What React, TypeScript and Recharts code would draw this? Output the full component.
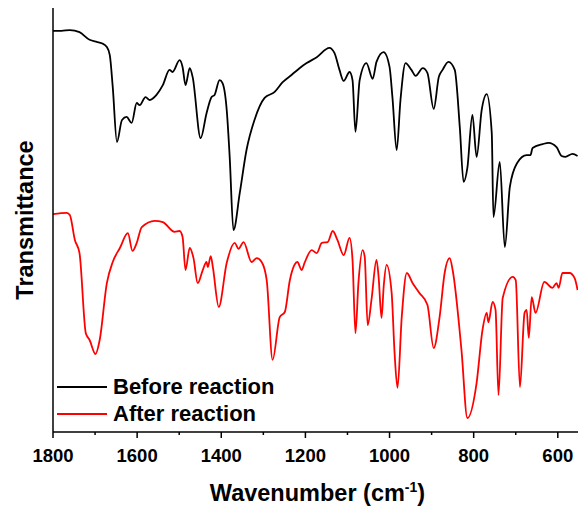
import React from "react";
import { LineChart, Line, XAxis, YAxis, Label } from "recharts";

const beforeWavenumber = [
  1800, 1780, 1760, 1737, 1713, 1696, 1684, 1672, 1665, 1658, 1648, 1636, 1625, 1613, 1601, 1594,
  1580, 1570, 1554, 1539, 1523, 1516, 1499, 1492, 1485, 1475, 1468, 1449, 1435, 1423, 1416, 1404,
  1397, 1387, 1380, 1371, 1356, 1340, 1321, 1297, 1273, 1254, 1233, 1214, 1197, 1173, 1143, 1131,
  1119, 1109, 1095, 1088, 1081, 1071, 1055, 1040, 1031, 1014, 1000, 993, 983, 974, 962, 948, 938,
  921, 910, 895, 883, 874, 860, 845, 833, 824, 815, 803, 793, 781, 769, 757, 753, 738, 726, 714,
  697, 674, 665, 660, 636, 622, 603, 591, 582, 565, 553,
];
const beforeTransmittance = [
  94.6, 94.6, 94.8, 94.3, 92.5, 92.0, 91.7, 90.8, 88.9, 81.4, 68.4, 73.6, 74.3, 72.9, 77.6, 77.1,
  79.0, 78.3, 79.5, 81.8, 85.4, 84.9, 87.7, 86.1, 81.8, 85.8, 83.7, 69.3, 75.2, 79.0, 79.5, 83.0,
  82.3, 75.9, 64.9, 47.6, 56.4, 66.5, 73.6, 78.8, 80.2, 82.5, 84.2, 85.8, 87.0, 88.4, 90.6, 89.4,
  85.4, 82.8, 84.9, 83.0, 70.8, 83.0, 87.0, 83.3, 87.3, 89.6, 86.1, 78.8, 66.5, 78.3, 87.0, 85.4, 84.0,
  85.8, 84.7, 76.2, 83.7, 85.4, 87.3, 85.4, 71.9, 59.0, 62.3, 74.8, 64.9, 75.9, 79.7, 70.5, 50.7, 63.7, 43.6, 57.8,
  63.4, 65.3, 65.3, 67.0, 67.9, 68.2, 67.2, 65.1, 64.9, 65.6, 65.1,
];

const afterWavenumber = [
  1800, 1767, 1760, 1748, 1737, 1722, 1713, 1699, 1689, 1672, 1658, 1641, 1622, 1611, 1601, 1589,
  1558, 1539, 1511, 1499, 1492, 1485, 1475, 1466, 1456, 1444, 1435, 1432, 1425, 1420, 1406, 1387,
  1368, 1359, 1347, 1328, 1316, 1304, 1292, 1278, 1261, 1249, 1237, 1226, 1219, 1209, 1202, 1185,
  1173, 1161, 1147, 1135, 1124, 1109, 1095, 1088, 1081, 1074, 1064, 1059, 1052, 1043, 1031, 1026,
  1019, 1014, 1007, 995, 988, 981, 971, 959, 945, 929, 910, 895, 881, 869, 857, 850, 829, 815, 793,
  779, 769, 765, 755, 748, 741, 731, 707, 700, 690, 679, 674, 669, 662, 653, 632, 613, 603, 598,
  589, 572, 560, 553,
];
const afterTransmittance = [
  51.4, 51.7, 51.2, 45.3, 42.2, 23.3, 21.7, 18.4, 21.7, 35.1, 40.1, 43.4, 46.9, 42.7, 44.6, 48.3,
  49.8, 49.5, 47.2, 47.4, 46.0, 38.2, 43.4, 41.0, 35.1, 38.2, 40.1, 38.9, 41.5, 38.9, 29.5, 39.9,
  44.6, 43.2, 44.8, 40.1, 41.0, 40.1, 35.8, 17.0, 27.1, 28.3, 35.8, 39.4, 40.1, 38.2, 39.9, 42.9,
  42.2, 44.6, 44.8, 47.4, 45.3, 41.7, 45.8, 40.6, 23.3, 35.1, 42.9, 41.3, 25.2, 31.1, 40.6, 36.6,
  26.9, 34.2, 39.4, 32.8, 18.6, 10.4, 27.1, 37.5, 35.1, 32.8, 30.0, 19.8, 27.1, 37.5, 41.0, 38.2, 19.3, 3.3, 11.6,
  24.1, 28.1, 25.9, 30.7, 28.8, 8.7, 31.6, 36.6, 35.8, 10.6, 28.1, 28.8, 22.2, 31.8, 28.1, 35.4, 34.0, 35.1, 34.0,
  37.5, 37.5, 36.3, 33.5,
];

const xTicks = [600, 700, 800, 900, 1000, 1100, 1200, 1300, 1400, 1500, 1600, 1700, 1800];
const majorTicks = [600, 800, 1000, 1200, 1400, 1600, 1800];
const seriesNames = ["Before reaction", "After reaction"];
const seriesColors = ["#000000", "#ff0000"];

const beforeData = beforeWavenumber.map((wn, i) => ({ wn, t: beforeTransmittance[i] }));
const afterData = afterWavenumber.map((wn, i) => ({ wn, t: afterTransmittance[i] }));

const FONT = "'Liberation Sans', Arial, Helvetica, sans-serif";

const XTick = (props: any) => {
  const { x, y, payload } = props;
  const major = majorTicks.includes(payload.value);
  return (
    <g>
      <line x1={x} x2={x} y1={y} y2={y + (major ? 6 : 3)} stroke="#000" strokeWidth={1.5} />
      {major && (
        <text x={x} y={y + 30} textAnchor="middle" fontSize={18.5} fontWeight="bold" fontFamily={FONT} fill="#000">
          {payload.value}
        </text>
      )}
    </g>
  );
};

const LegendBox = () => (
  <div
    style={{
      position: "absolute",
      left: 57,
      top: 373,
      fontFamily: FONT,
      fontWeight: "bold",
      fontSize: 22,
      color: "#000",
    }}
  >
    {seriesNames.map((name, i) => (
      <div key={name} style={{ display: "flex", alignItems: "center", height: 27 }}>
        <svg width={50} height={4} style={{ marginRight: 6 }}>
          <line x1={0} x2={50} y1={2} y2={2} stroke={seriesColors[i]} strokeWidth={2} />
        </svg>
        <span style={{ lineHeight: "27px", whiteSpace: "nowrap" }}>{name}</span>
      </div>
    ))}
  </div>
);

export default function App() {
  return (
    <div style={{ position: "fixed", left: 0, top: 0, width: 578, height: 512, overflow: "hidden", background: "#fff" }}>
      <LineChart width={578} height={512} margin={{ top: 8, right: 0, bottom: 0, left: 0 }}>
        <XAxis
          dataKey="wn"
          type="number"
          domain={[552, 1800]}
          reversed
          allowDataOverflow
          ticks={xTicks}
          interval={0}
          tickSize={0}
          tickMargin={0}
          tickLine={false}
          tick={<XTick />}
          height={80}
          axisLine={{ stroke: "#000", strokeWidth: 1.5 }}
        >
          <Label
            content={(p: any) => {
              const vb = p.viewBox || { x: 53, y: 432, width: 525 };
              const cx = vb.x + vb.width / 2 + 2;
              return (
                <text x={cx} y={vb.y + 69} textAnchor="middle" fontSize={23.5} fontWeight="bold" fontFamily={FONT} fill="#000">
                  Wavenumber (cm
                  <tspan fontSize={14} dy={-9}>-1</tspan>
                  <tspan dy={9}>)</tspan>
                </text>
              );
            }}
          />
        </XAxis>
        <XAxis
          xAxisId="top"
          orientation="top"
          type="number"
          domain={[552, 1800]}
          reversed
          tick={false}
          tickLine={false}
          height={0}
          axisLine={{ stroke: "#000", strokeWidth: 1.5 }}
        />
        <YAxis
          type="number"
          domain={[0, 100]}
          width={53}
          tick={false}
          tickLine={false}
          axisLine={{ stroke: "#000", strokeWidth: 1.5 }}
        >
          <Label
            content={() => (
              <text
                x={33}
                y={220}
                transform="rotate(-90, 33, 220)"
                textAnchor="middle"
                fontSize={23.5}
                fontWeight="bold"
                fontFamily={FONT}
                fill="#000"
              >
                Transmittance
              </text>
            )}
          />
        </YAxis>
        <Line
          data={beforeData}
          dataKey="t"
          name={seriesNames[0]}
          type="monotone"
          stroke={seriesColors[0]}
          strokeWidth={1.8}
          dot={false}
          activeDot={false}
          isAnimationActive={false}
        />
        <Line
          data={afterData}
          dataKey="t"
          name={seriesNames[1]}
          type="monotone"
          stroke={seriesColors[1]}
          strokeWidth={1.8}
          dot={false}
          activeDot={false}
          isAnimationActive={false}
        />
      </LineChart>
      <LegendBox />
    </div>
  );
}
